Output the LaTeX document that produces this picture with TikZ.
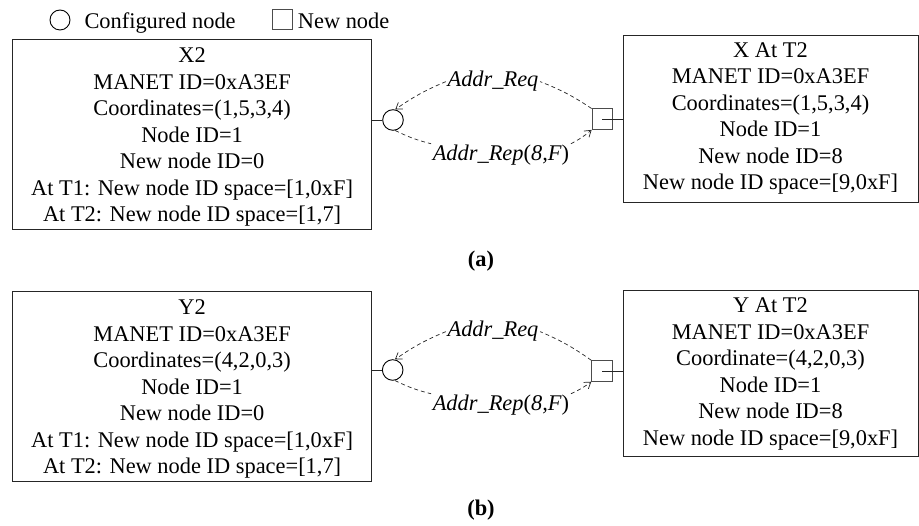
\documentclass[tikz,border=0pt]{standalone}
\usepackage{fontspec}
\setmainfont{Liberation Serif}
\usetikzlibrary{arrows.meta}
\begin{document}
\begin{tikzpicture}[x=1pt,y=1pt,
  every node/.style={inner sep=0pt, font=\fontsize{22.4}{26.5}\selectfont},
  infobox/.style={draw=black!85, line width=0.9pt, align=center},
  cnode/.style={circle, draw=black, line width=0.9pt, minimum size=20.6pt},
  nnode/.style={rectangle, draw=black!70, line width=0.9pt, minimum size=20.5pt},
  lnk/.style={draw=black!85, line width=0.9pt},
  msg/.style={draw=black!85, line width=0.7pt, dash pattern=on 4pt off 3pt,
    -{Straight Barb[length=6pt,width=8pt]}},
  msglabel/.style={font=\fontsize{22.4}{26.5}\selectfont\itshape, inner sep=1.5pt},
  caption/.style={font=\fontsize{22.4}{26.5}\selectfont\bfseries}]
\useasboundingbox (0,0) rectangle (919,-526);

% legend
\node[cnode, minimum size=20pt] (legC) at (60,-20) {};
\node[anchor=base west] (legCtxt) at (84.3,-28.3) {Configured node};
\node[nnode, minimum size=20pt] (legS) at (282,-19.2) {};
\node[anchor=base west] (legStxt) at (297.7,-28.3) {New node};

% ---------- (a) ----------
\node[infobox, minimum width=359.2pt, minimum height=189.8pt] (X2) at (192.1,-134.4)
  {\rule{0pt}{20pt}X2\\MANET ID=0xA3EF\\Coordinates=(1,5,3,4)\\Node ID=1\\New node ID=0\\At T1: New node ID space=[1,0xF]\\At T2: New node ID space=[1,7]};
\node[infobox, minimum width=295pt, minimum height=167pt] (XT) at (770.5,-118.5)
  {X At T2\\MANET ID=0xA3EF\\Coordinates=(1,5,3,4)\\Node ID=1\\New node ID=8\\New node ID space=[9,0xF]};
\node[cnode] (CA) at (393,-120) {};
\node[nnode] (SA) at (602.3,-119.2) {};
\draw[lnk] (X2.east |- CA.west) -- (CA.west);
\draw[lnk] (SA.center) -- (SA.center -| XT.west);

\node[msglabel, anchor=base] (reqA) at (493,-87) {Addr\_Req};
\node[msglabel, anchor=base] (repA) at (501,-161) {\textit{Addr\_Rep}\textup{(}8,F\textup{)}};
\draw[msg] (SA.north west) to[bend right=6] (reqA.east) (reqA.west) to[bend right=6] (CA.78);
\draw[msg] (CA.-78) to[bend right=6] (repA.north west) (repA.north east) to[bend right=6] (SA.south west);

\node[caption, anchor=base] (capA) at (481,-267) {(a)};

% ---------- (b) ----------
\node[infobox, minimum width=359.2pt, minimum height=189.8pt] (Y2) at (192.1,-386.4)
  {\rule{0pt}{20pt}Y2\\MANET ID=0xA3EF\\Coordinates=(4,2,0,3)\\Node ID=1\\New node ID=0\\At T1: New node ID space=[1,0xF]\\At T2: New node ID space=[1,7]};
\node[infobox, minimum width=295pt, minimum height=166pt] (YT) at (770.5,-373.9)
  {Y At T2\\MANET ID=0xA3EF\\Coordinate=(4,2,0,3)\\Node ID=1\\New node ID=8\\New node ID space=[9,0xF]};
\node[cnode] (CB) at (392.7,-370) {};
\node[nnode] (SB) at (602,-371) {};
\draw[lnk] (Y2.east |- CB.west) -- (CB.west);
\draw[lnk] (SB.center) -- (SB.center -| YT.west);

\node[msglabel, anchor=base] (reqB) at (493,-337) {Addr\_Req};
\node[msglabel, anchor=base] (repB) at (501,-411) {\textit{Addr\_Rep}\textup{(}8,F\textup{)}};
\draw[msg] (SB.north west) to[bend right=6] (reqB.east) (reqB.west) to[bend right=6] (CB.78);
\draw[msg] (CB.-78) to[bend right=6] (repB.north west) (repB.north east) to[bend right=6] (SB.south west);

\node[caption, anchor=base] (capB) at (481,-515) {(b)};
\end{tikzpicture}
\end{document}
